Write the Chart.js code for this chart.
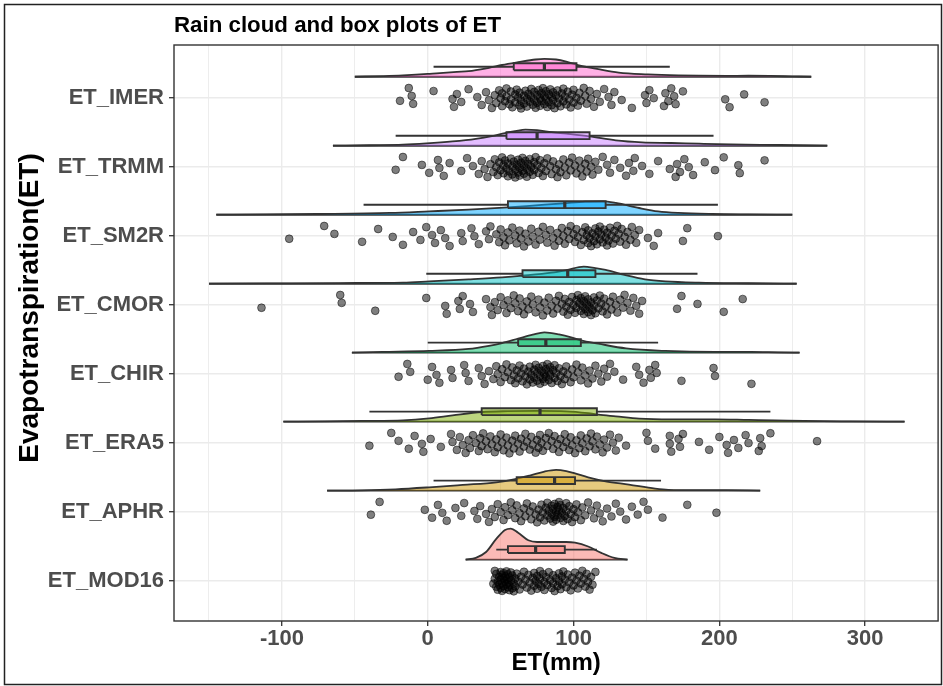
<!DOCTYPE html>
<html>
<head>
<meta charset="utf-8">
<title>Rain cloud and box plots of ET</title>
<script src="https://cdn.jsdelivr.net/npm/chart.js@4.4.0/dist/chart.umd.min.js"></script>
<style>
  html, body { margin: 0; padding: 0; background: #fff; }
  #cadre { width: 943px; height: 686px; position: relative; }
</style>
</head>
<body>
<div id="cadre"><canvas id="pluie"></canvas></div>
<script>
// ..................les données........................
const rows = ['ET_MOD16', 'ET_APHR', 'ET_ERA5', 'ET_CHIR', 'ET_CMOR', 'ET_SM2R', 'ET_TRMM', 'ET_IMER'];
const xGrid = [-150, -100, -50, 0, 50, 100, 150, 200, 250, 300];

// boites : moustache basse, Q1, mediane, Q3, moustache haute
const whiskerLow  = [47, 4, -40, 0, -1, -44, -22, 4];
const q1          = [55, 61, 37, 62, 65, 55, 54, 59];
const median      = [74, 87, 77, 81, 96, 94, 75, 80];
const q3          = [94, 101, 116, 105, 115, 122, 111, 102];
const whiskerHigh = [116, 160, 235, 158, 185, 199, 196, 166];

// nuages (densite en % d'une ligne) : [ET, hauteur]
const cloudMOD16 = [[26,0],[33,2.5],[40,11],[47,30],[53,43],[57,45],[62,39],[69,28],[75,25.5],[85,25.5],[95,25.5],[101,24.5],[110,19],[119,9.7],[128,2.5],[137,0]];
const cloudAPHR  = [[-69,0],[-45,0.4],[-22,1.9],[1,4.8],[24,8.3],[47,12],[60,16.7],[70,21.8],[80,27.6],[88,30],[95,28.3],[101,25],[110,19.3],[122,13.5],[138,8.7],[156,2.9],[165,1.2],[190,0.7],[205,0.6],[228,0]];
const cloudERA5  = [[-99,0],[-70,0.4],[-45,1],[-17,1.9],[1,4.8],[17,9.1],[37,14],[55,15.2],[75,15.5],[95,15],[110,12.3],[117,10.2],[129,7.7],[145,4.4],[167,3.3],[197,3.3],[220,2.5],[238,1.9],[258,1],[290,0.4],[327,0]];
const cloudCHIR  = [[-52,0],[-31,1],[1,2.5],[28,5.4],[42,10],[51,14],[62,20.3],[72,26],[80,29.4],[90,26.5],[99,21.8],[105,17.8],[117,13],[136,6.2],[163,2.5],[197,1],[222,1],[240,0.4],[255,0]];
const cloudCMOR  = [[-150,0],[-110,0.4],[-60,0.9],[-17,1.5],[1,3.3],[28,6.2],[51,9.1],[65,11.6],[85,16],[95,19.6],[107,24.7],[115,22.5],[122,19.9],[135,12.6],[149,6.2],[163,3.3],[186,1.5],[220,0.6],[253,0]];
const cloudSM2R  = [[-145,0],[-110,0.4],[-76,1],[-26,2.5],[1,4.8],[28,7.3],[55,10.6],[74,13.5],[93,16.4],[108,18.9],[120,19.3],[129,17],[145,9.7],[158,4.8],[172,2.5],[195,1],[220,0.4],[250,0]];
const cloudTRMM  = [[-65,0],[-40,0.7],[-17,1.5],[-1,3.3],[17,6.2],[33,10],[44,14],[53,18.4],[60,21],[67,23.2],[75,22.5],[85,19.6],[95,17.4],[111,13.5],[129,7.7],[147,4.8],[167,3.9],[186,2.9],[208,1.9],[242,1],[274,0]];
const cloudIMER  = [[-50,0],[-30,1],[-17,2],[0,4],[6,5],[20,7],[28,8],[42,13],[51,17],[62,21],[74,25],[80,26],[88,25],[95,22],[103,17],[117,11],[131,6],[151,3.5],[172,2],[186,1.5],[205,1.3],[220,1.4],[235,1.1],[250,0.5],[263,0]];

// points (ET en mm)
const etMOD16 = [45, 46, 46, 47, 47, 48, 48, 49, 49, 50, 50, 50, 51, 51, 51, 52, 52, 52, 53, 53, 53, 54, 54, 54, 55, 55, 55, 56, 56, 56, 57, 57, 58, 58, 59, 59, 60, 60, 61, 62, 63, 64, 65, 66, 67, 68, 69, 70, 71, 72, 73, 73, 74, 75, 75, 76, 77, 77, 78, 79, 80, 80, 81, 82, 83, 84, 85, 86, 86, 87, 88, 89, 90, 90, 91, 92, 92, 93, 94, 95, 96, 97, 98, 99, 100, 101, 102, 103, 104, 105, 106, 107, 108, 109, 110, 111, 112, 113, 115];
const etAPHR = [-39, -33, -2, 3, 7, 10, 13, 19, 23, 25, 32, 34, 36, 40, 42, 44, 46, 48, 50, 52, 53, 55, 57, 58, 60, 61, 63, 64, 66, 67, 68, 70, 71, 72, 74, 75, 76, 77, 78, 79, 80, 81, 82, 82, 83, 84, 85, 85, 86, 86, 87, 87, 88, 88, 89, 89, 90, 90, 91, 91, 92, 93, 93, 94, 95, 95, 96, 97, 98, 99, 100, 101, 102, 103, 105, 106, 108, 110, 112, 114, 116, 118, 120, 123, 126, 129, 132, 136, 140, 144, 148, 151, 161, 178, 198];
const etERA5 = [-40, -25, -20, -13, -9, -4, -3, 2, 9, 16, 17, 20, 22, 24, 26, 28, 29, 31, 33, 35, 36, 37, 38, 40, 41, 43, 44, 46, 47, 48, 50, 51, 52, 54, 55, 56, 58, 59, 60, 62, 63, 64, 66, 67, 68, 70, 71, 72, 74, 75, 76, 77, 78, 79, 81, 82, 83, 85, 86, 87, 89, 90, 91, 93, 94, 95, 97, 98, 99, 101, 102, 104, 105, 106, 108, 109, 111, 112, 113, 115, 116, 118, 120, 121, 123, 125, 127, 129, 131, 136, 150, 151, 156, 166, 166, 167, 172, 173, 175, 186, 193, 200, 205, 206, 210, 213, 218, 220, 227, 228, 229, 235, 267];
const etCHIR = [-20, -14, -12, 0, 3, 6, 8, 16, 17, 25, 26, 28, 35, 37, 39, 42, 45, 47, 48, 50, 51, 53, 54, 55, 57, 58, 59, 60, 61, 62, 63, 64, 65, 66, 67, 68, 69, 70, 70, 71, 72, 73, 73, 74, 75, 75, 76, 77, 77, 78, 79, 79, 80, 80, 81, 81, 82, 83, 83, 84, 84, 85, 86, 87, 87, 88, 89, 90, 91, 92, 93, 94, 95, 96, 98, 99, 100, 102, 103, 105, 106, 108, 110, 111, 113, 115, 117, 119, 121, 123, 125, 128, 134, 143, 145, 148, 152, 153, 156, 157, 174, 196, 197, 222];
const etCMOR = [-114, -60, -59, -36, -1, 12, 13, 21, 22, 24, 29, 31, 40, 43, 44, 46, 48, 50, 52, 54, 55, 57, 59, 60, 62, 63, 65, 66, 68, 69, 71, 72, 74, 76, 77, 79, 80, 82, 83, 85, 86, 88, 89, 90, 92, 93, 94, 95, 96, 97, 98, 99, 100, 101, 102, 102, 103, 104, 105, 105, 106, 107, 107, 108, 108, 109, 110, 110, 111, 112, 112, 113, 114, 114, 115, 116, 117, 118, 119, 120, 121, 122, 123, 125, 126, 127, 129, 130, 132, 134, 135, 137, 139, 141, 143, 145, 147, 171, 174, 185, 203, 216];
const etSM2R = [-95, -71, -64, -45, -34, -24, -17, -10, -5, -1, 3, 5, 9, 12, 15, 23, 24, 30, 32, 35, 40, 42, 43, 47, 49, 50, 52, 53, 55, 56, 58, 60, 61, 63, 64, 66, 67, 69, 71, 72, 74, 76, 77, 79, 81, 82, 84, 86, 87, 89, 90, 92, 93, 94, 96, 97, 98, 100, 101, 102, 103, 105, 106, 107, 108, 109, 110, 110, 111, 112, 113, 114, 115, 115, 116, 117, 118, 118, 119, 120, 121, 122, 123, 123, 124, 125, 126, 127, 128, 129, 130, 131, 132, 133, 135, 136, 137, 139, 140, 142, 143, 145, 151, 155, 158, 175, 178, 199];
const etTRMM = [-22, -17, -4, 1, 7, 8, 11, 15, 23, 27, 31, 35, 37, 39, 41, 43, 45, 46, 47, 48, 49, 50, 51, 52, 52, 53, 54, 55, 55, 56, 57, 58, 58, 59, 60, 60, 61, 62, 62, 63, 63, 64, 65, 65, 66, 66, 67, 68, 68, 69, 70, 70, 71, 72, 73, 73, 74, 75, 76, 77, 78, 79, 80, 81, 82, 84, 85, 86, 88, 89, 90, 91, 93, 94, 95, 97, 98, 99, 101, 102, 104, 105, 106, 108, 109, 110, 112, 113, 115, 117, 120, 123, 125, 128, 132, 136, 138, 141, 142, 147, 152, 158, 166, 170, 171, 173, 176, 179, 182, 190, 197, 203, 213, 214, 231];
const etIMER = [-19, -13, -11, -10, 4, 17, 18, 20, 23, 28, 34, 37, 40, 42, 44, 46, 47, 49, 50, 51, 51, 53, 54, 54, 56, 57, 57, 58, 60, 60, 61, 62, 63, 63, 64, 64, 66, 66, 67, 68, 68, 69, 70, 71, 71, 72, 73, 73, 74, 75, 75, 76, 77, 77, 78, 78, 79, 80, 80, 81, 81, 82, 83, 83, 84, 85, 85, 86, 86, 87, 88, 89, 89, 90, 91, 92, 93, 93, 94, 95, 96, 97, 98, 99, 100, 100, 102, 103, 104, 105, 107, 108, 109, 111, 112, 114, 116, 118, 121, 124, 126, 128, 133, 140, 149, 150, 152, 155, 162, 163, 165, 167, 169, 170, 175, 204, 207, 217, 231];

const clouds = [cloudMOD16, cloudAPHR, cloudERA5, cloudCHIR, cloudCMOR, cloudSM2R, cloudTRMM, cloudIMER];
const points = [etMOD16, etAPHR, etERA5, etCHIR, etCMOR, etSM2R, etTRMM, etIMER];
// ..................fin les données....................

// couleurs ggplot par defaut
const hues = ['#F8766D', '#CD9600', '#7CAE00', '#00BE67', '#00BFC4', '#00A9FF', '#C77CFF', '#FF61CC'];
const police = '"Liberation Sans", Arial, sans-serif';
const trait = '#333333';

const cloudBase = 0.31;   // decalage du nuage au-dessus de la ligne
const boxMid = 0.455;     // centre de la boite
const boxHalf = 0.05;
const jitter = 0.15;

function fade(hex, a) {
    const n = parseInt(hex.slice(1), 16);
    return 'rgba(' + (n >> 16) + ',' + ((n >> 8) & 255) + ',' + (n & 255) + ',' + a + ')';
}
// decalage vertical des points (suite reguliere, pas de hasard)
function spread(j) {
    return (((j * 0.6180339887 + 0.37) % 1) - 0.5) * 2 * jitter;
}

const datasets = [];
rows.forEach((name, i) => {
    const k = i + 1;
    const base = k + cloudBase;
    const c = clouds[i];

    // ........le nuage........
    datasets.push({
        type: 'line', order: 3,
        data: c.map(([v, h]) => ({ x: v, y: base + h / 100 })),
        fill: { value: base },
        backgroundColor: fade(hues[i], 0.5),
        borderColor: trait, borderWidth: 1.8,
        pointRadius: 0, cubicInterpolationMode: 'monotone'
    });
    datasets.push({
        type: 'line', order: 3,
        data: [{ x: c[0][0], y: base }, { x: c[c.length - 1][0], y: base }],
        borderColor: trait, borderWidth: 1.9, pointRadius: 0, fill: false
    });

    // ........la boite........
    const yb = k + boxMid;
    datasets.push({
        type: 'line', order: 2,
        data: [
            { x: q1[i], y: yb - boxHalf }, { x: q3[i], y: yb - boxHalf },
            { x: q3[i], y: yb + boxHalf }, { x: q1[i], y: yb + boxHalf },
            { x: q1[i], y: yb - boxHalf }
        ],
        fill: 'shape',
        backgroundColor: fade(hues[i], 0.5),
        borderColor: trait, borderWidth: 1.9, pointRadius: 0, tension: 0
    });
    datasets.push({
        type: 'line', order: 2,
        data: [
            { x: whiskerLow[i], y: yb }, { x: q1[i], y: yb },
            { x: median[i], y: NaN },
            { x: q3[i], y: yb }, { x: whiskerHigh[i], y: yb }
        ],
        borderColor: trait, borderWidth: 1.9, pointRadius: 0, fill: false, spanGaps: false
    });
    datasets.push({
        type: 'line', order: 1,
        data: [{ x: median[i], y: yb - boxHalf }, { x: median[i], y: yb + boxHalf }],
        borderColor: trait, borderWidth: 3.2, pointRadius: 0, fill: false
    });

    // ........la pluie........
    datasets.push({
        type: 'scatter', order: 0,
        data: points[i].map((v, j) => ({ x: v, y: k + spread(j) })),
        backgroundColor: 'rgba(0,0,0,0.5)',
        borderColor: 'rgba(0,0,0,0.5)',
        borderWidth: 1,
        pointRadius: 3.9, pointHoverRadius: 3.9
    });
});

// ........titres et cadres........
const habillage = {
    id: 'habillage',
    afterDraw(chart) {
        const { ctx, chartArea: a } = chart;
        ctx.save();
        ctx.strokeStyle = trait;
        ctx.lineWidth = 1.4;
        ctx.strokeRect(a.left, a.top, a.right - a.left, a.bottom - a.top);
        ctx.strokeStyle = '#222';
        ctx.lineWidth = 1.5;
        ctx.strokeRect(4.5, 4.5, 937, 680);
        ctx.fillStyle = '#000';
        ctx.font = 'bold 22.3px ' + police;
        ctx.textBaseline = 'alphabetic';
        ctx.textAlign = 'left';
        ctx.fillText('Rain cloud and box plots of ET', a.left, 32);
        // titre de l'axe vertical
        ctx.translate(30, 308);
        ctx.rotate(-Math.PI / 2);
        ctx.textAlign = 'center';
        ctx.textBaseline = 'middle';
        ctx.font = 'bold 28px ' + police;
        ctx.fillText('Evapotranspiration(ET)', 0, 0);
        ctx.restore();
    }
};

const ctx = document.getElementById('pluie').getContext('2d');
const chart = new Chart(ctx, {
    type: 'scatter',
    data: { datasets: datasets },
    plugins: [habillage],
    options: {
        responsive: true,
        maintainAspectRatio: false,
        animation: false,
        events: [],
        layout: { padding: { top: 45, right: 3, left: 0, bottom: 0 } },
        plugins: {
            legend: { display: false },
            tooltip: { enabled: false }
        },
        scales: {
            x: {
                type: 'linear', min: -174, max: 350,
                afterBuildTicks: s => { s.ticks = xGrid.map(v => ({ value: v })); },
                afterFit: s => { s.height = 65; },
                border: { display: false },
                grid: {
                    color: '#ebebeb',
                    lineWidth: c => (c.tick.value % 100 === 0 ? 1.4 : 0.9),
                    tickLength: 5,
                    tickWidth: 1.3,
                    tickColor: c => (c.tick.value % 100 === 0 ? trait : 'rgba(0,0,0,0)')
                },
                ticks: {
                    autoSkip: false, maxRotation: 0, padding: 0,
                    callback: v => (v % 100 === 0 ? v : ''),
                    color: '#4d4d4d',
                    font: { family: police, size: 22, weight: 'bold' }
                },
                title: {
                    display: true, text: 'ET(mm)', color: '#000',
                    font: { family: police, size: 24, weight: 'bold' },
                    padding: { top: 0, bottom: 8.6 }
                }
            },
            y: {
                type: 'linear', min: 0.42, max: 8.77,
                afterBuildTicks: s => { s.ticks = rows.map((r, i) => ({ value: i + 1 })); },
                afterFit: s => { s.width = 174; },
                border: { display: false },
                grid: {
                    color: '#ebebeb', lineWidth: 1.4,
                    tickLength: 5, tickWidth: 1.3, tickColor: trait
                },
                ticks: {
                    autoSkip: false, padding: 5,
                    callback: v => rows[v - 1],
                    color: '#4d4d4d',
                    font: { family: police, size: 22, weight: 'bold' }
                }
            }
        }
    }
});
</script>
</body>
</html>
